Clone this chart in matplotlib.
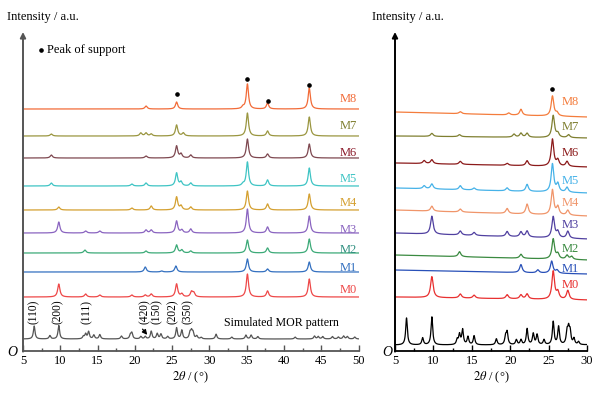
import numpy as np
import matplotlib.pyplot as plt

plt.rcParams['font.family'] = 'Liberation Serif'
plt.rcParams['mathtext.fontset'] = 'stix'

samples = ['M0', 'M1', 'M2', 'M3', 'M4', 'M5', 'M6', 'M7', 'M8']
colors_left = ['#ee4848', '#3370c0', '#3caa78', '#8a64c0', '#d4a030',
               '#3ec4c4', '#7e4850', '#9a9640', '#f26b38']
colors_right = ['#e83030', '#2850b8', '#3a8a40', '#5040a0', '#f0956a',
                '#46b2e8', '#8b1a1a', '#7f7f30', '#f47c3c']
label_colors_left = ['#ee4848', '#3370c0', '#2f8f80', '#8a64c0', '#d4a030',
                     '#3ec4c4', '#8b1a2a', '#7f7f30', '#f26b38']

# baseline of each pattern (intensity offset), left panel
base_left = [54, 79, 98, 118, 141, 165, 193, 215, 242]
# right panel baselines at 2theta = 5 and 30
base_right_start = [54, 81, 96, 118, 141, 163, 188, 215, 239]
base_right_end = [51, 77, 91, 112, 135, 158, 184, 213, 234]

label_y_left = [61, 83, 101, 121, 148, 172, 198, 225, 252]
label_y_right = [66, 82, 102, 126, 148, 170, 198, 224, 249]

# peaks (2theta, height) (5-50)
left_M0 = [(9.8, 13), (13.4, 3), (15.3, 2), (19.6, 2), (21.4, 2), (22.2, 3),
           (25.6, 13), (26.3, 3), (27.6, 5), (27.9, 4), (35.1, 23), (37.8, 6), (43.4, 18)]
left_M1 = [(21.4, 5), (23.6, 1), (25.5, 6), (35.1, 13), (37.8, 3), (43.4, 10)]
left_M2 = [(13.3, 3), (21.5, 2), (25.6, 8), (26.3, 3), (27.5, 2), (35.1, 13),
           (37.8, 5), (43.4, 14)]
left_M3 = [(9.8, 11), (13.4, 2), (15.3, 2), (21.5, 3), (22.2, 3), (25.6, 12),
           (26.3, 3), (27.5, 4), (35.1, 24), (37.8, 6), (43.4, 17)]
left_M4 = [(9.8, 3), (19.6, 2), (22.2, 4), (25.6, 13), (26.2, 4), (27.5, 3),
           (35.1, 19), (37.8, 6), (43.4, 16)]
left_M5 = [(8.8, 3), (19.6, 2), (21.5, 3), (25.6, 13), (26.2, 4), (27.5, 3),
           (34.5, 2), (35.1, 24), (37.8, 6), (43.4, 18)]
left_M6 = [(8.8, 3), (21.5, 2), (25.6, 12), (26.2, 4), (27.5, 3), (35.1, 19),
           (37.8, 4), (43.4, 14)]
left_M7 = [(8.8, 2), (20.8, 3), (21.5, 3), (22.2, 2), (25.6, 11), (26.5, 3),
           (35.1, 23), (37.8, 5), (43.4, 19)]
left_M8 = [(21.5, 3), (25.6, 7), (34.5, 2), (35.1, 25), (37.8, 6), (43.4, 21)]

# peaks (5-30)
right_M0 = [(9.8, 21), (13.5, 4), (15.3, 3), (19.6, 4), (21.4, 4), (22.2, 5),
            (25.6, 28), (26.2, 7), (27.5, 9)]
right_M1 = [(21.4, 8), (23.6, 3), (25.4, 12), (26.1, 3)]
right_M2 = [(13.4, 5), (21.4, 4), (25.6, 20), (26.2, 5), (27.4, 4), (28.0, 3)]
right_M3 = [(9.8, 18), (13.5, 4), (15.3, 3), (19.6, 5), (21.4, 5), (22.2, 6),
            (25.6, 21), (26.2, 6), (27.5, 7)]
right_M4 = [(9.8, 5), (13.5, 3), (19.6, 5), (22.2, 10), (25.5, 25), (26.2, 8), (27.5, 5)]
right_M5 = [(8.8, 3), (9.8, 5), (13.5, 4), (15.3, 2), (19.6, 3), (22.2, 7),
            (25.5, 28), (26.2, 8), (27.4, 5)]
right_M6 = [(8.8, 3), (9.8, 4), (13.5, 3), (19.6, 2), (22.2, 5), (25.5, 27),
            (26.2, 6), (27.4, 5)]
right_M7 = [(9.8, 3), (13.4, 2), (20.5, 3), (21.4, 4), (22.2, 4), (25.6, 22),
            (26.2, 4), (27.6, 3)]
right_M8 = [(13.5, 2), (19.8, 2), (21.4, 6), (25.5, 20), (26.1, 3)]

# simulated MOR pattern (heights as in the right panel)
mor_peaks = [(6.5, 27), (8.6, 7), (9.8, 28), (13.1, 5), (13.4, 10), (13.8, 15),
             (14.5, 8), (15.3, 9), (18.2, 6), (19.4, 8), (19.6, 12), (20.8, 5),
             (21.4, 5), (22.2, 16), (23.0, 11), (23.5, 10), (24.4, 5), (25.6, 23),
             (26.3, 18), (27.4, 12), (27.6, 14), (27.8, 12), (28.3, 6), (28.9, 3),
             (30.9, 10), (33.0, 4), (34.9, 8), (35.6, 8), (36.5, 5), (41.5, 4),
             (44.1, 6), (44.6, 5), (45.2, 5), (46.5, 5), (47.3, 4), (48.0, 6),
             (48.5, 5), (49.5, 4)]

hkl_labels = ['(110)', '(200)', '(111)', '(420)', '(150)', '(202)', '(350)']
hkl_pos = [6.5, 9.7, 13.5, 21.3, 22.9, 25.1, 27.1]

support_left = [25.6, 35.1, 37.8, 43.4]
support_left_y = [257, 272, 250, 266]
support_right = [25.5]
support_right_y = [262]

left_peaks = [left_M0, left_M1, left_M2, left_M3, left_M4, left_M5, left_M6, left_M7, left_M8]
right_peaks = [right_M0, right_M1, right_M2, right_M3, right_M4, right_M5, right_M6, right_M7, right_M8]


def pattern(x, peaks, hw):
    y = np.zeros_like(x)
    for pos, h in peaks:
        y += h / (1 + ((x - pos) / hw) ** 2)
    return y


def style_axes(ax, xmax, color):
    ax.set_ylim(0, 319)
    ax.spines['top'].set_visible(False)
    ax.spines['right'].set_visible(False)
    ax.spines['left'].set_visible(False)
    ax.spines['bottom'].set_color(color)
    ax.spines['bottom'].set_linewidth(1.3)
    ax.set_yticks([])
    ax.set_xticks(np.arange(5, xmax + 1, 5))
    ax.set_xticks(np.arange(7.5, xmax, 5), minor=True)
    ax.tick_params(axis='x', which='major', direction='in', length=4, width=1,
                   color=color, labelsize=9, pad=3)
    ax.tick_params(axis='x', which='minor', direction='in', length=2.5, width=1, color=color)
    ax.annotate('', xy=(0, 1.0), xytext=(0, -0.002), xycoords='axes fraction',
                arrowprops=dict(arrowstyle='-|>', color=color, lw=1.4, mutation_scale=8,
                                shrinkA=0, shrinkB=0))
    ax.set_xlabel(r'$2\theta$ / (°)', fontsize=9, labelpad=2)


fig = plt.figure(figsize=(6.03, 3.95), dpi=100)
ax1 = fig.add_axes([23 / 603, 44 / 395, 335.5 / 603, 319 / 395])
ax2 = fig.add_axes([395 / 603, 44 / 395, 192 / 603, 319 / 395])

# left panel
x1 = np.linspace(5, 50, 3000)
for i, s in enumerate(samples):
    y = base_left[i] + pattern(x1, left_peaks[i], 0.18)
    ax1.plot(x1, y, color=colors_left[i], lw=0.9)
    ax1.text(48.6, label_y_left[i], s, color=label_colors_left[i], fontsize=9,
             ha='center', va='center')
ax1.plot(x1, 12 + 0.48 * pattern(x1, mor_peaks, 0.13), color='#555555', lw=0.9)
ax1.plot(support_left, support_left_y, 'o', color='black', ms=2.3)
ax1.plot([7.4], [301], 'o', color='black', ms=2.3)
ax1.text(8.2, 301, 'Peak of support', fontsize=9, va='center', ha='left')
for lab, p in zip(hkl_labels, hkl_pos):
    ax1.text(p, 27, lab, rotation=90, fontsize=8.3, ha='center', va='bottom')
ax1.text(32.0, 28, 'Simulated MOR pattern', fontsize=8.6, va='center', ha='left')
ax1.annotate('', xy=(21.9, 14), xytext=(20.8, 24),
             arrowprops=dict(arrowstyle='-|>', color='black', lw=0.9, mutation_scale=7))
ax1.set_xlim(5, 50)
style_axes(ax1, 50, '#555555')

# right panel
x2 = np.linspace(5, 30, 2000)
for i, s in enumerate(samples):
    bg = np.interp(x2, [5, 30], [base_right_start[i], base_right_end[i]])
    y = bg + pattern(x2, right_peaks[i], 0.2)
    ax2.plot(x2, y, color=colors_right[i], lw=0.9)
    ax2.text(27.8, label_y_right[i], s, color=colors_right[i], fontsize=9,
             ha='center', va='center')
ax2.plot(x2, 6 + pattern(x2, mor_peaks, 0.13), color='black', lw=0.9)
ax2.plot(support_right, support_right_y, 'o', color='black', ms=2.3)
ax2.set_xlim(5, 30)
style_axes(ax2, 30, 'black')

fig.text(7 / 603, 1 - 17 / 395, 'Intensity / a.u.', fontsize=9, va='center', ha='left')
fig.text(372 / 603, 1 - 17 / 395, 'Intensity / a.u.', fontsize=9, va='center', ha='left')
fig.text(12 / 603, 1 - 353 / 395, 'O', fontsize=10, style='italic', va='center', ha='center')
fig.text(387 / 603, 1 - 352 / 395, 'O', fontsize=10, style='italic', va='center', ha='center')

fig.savefig('out.png', dpi=100)
